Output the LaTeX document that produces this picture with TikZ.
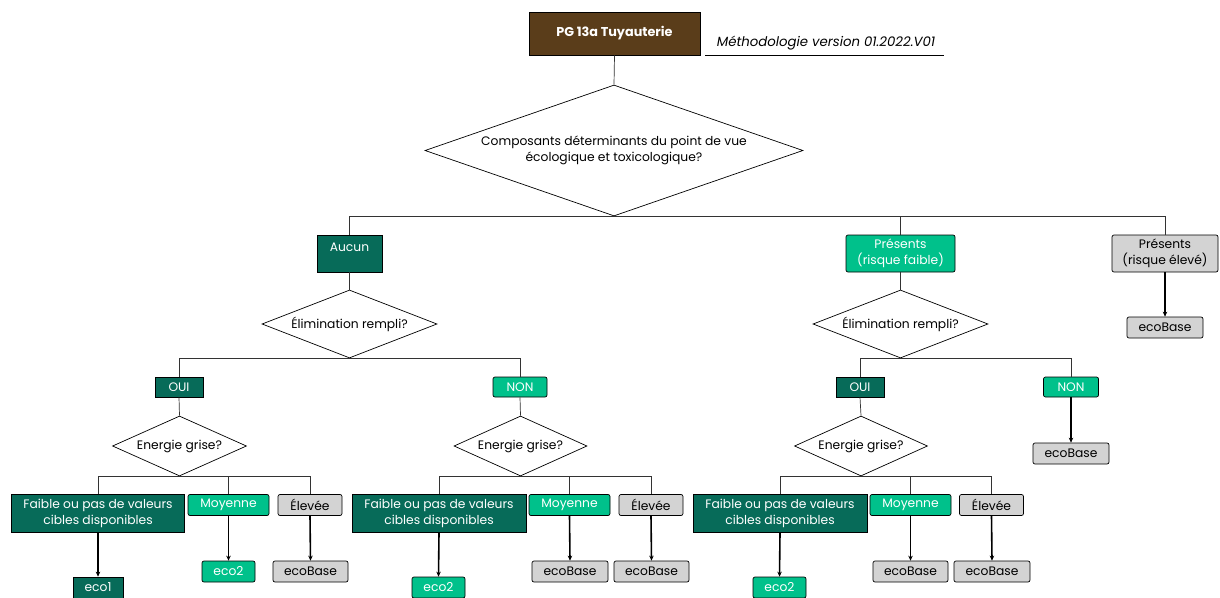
\documentclass[tikz,border=0pt]{standalone}
\usepackage{fontspec}
\setmainfont{Poppins}
\usetikzlibrary{shapes.geometric,arrows.meta}
\definecolor{brownbox}{HTML}{5A3D1A}
\definecolor{dkgreen}{HTML}{076B59}
\definecolor{ltgreen}{HTML}{00C18B}
\definecolor{greybox}{HTML}{D3D3D3}
\definecolor{connc}{HTML}{333333}
\begin{document}
\begin{tikzpicture}[x=1pt,y=-1pt,
  txt/.style={font=\fontsize{12.3}{16}\selectfont},
  base/.style={txt, draw=black, line width=0.7pt, inner sep=0pt, align=center},
  dark/.style={base, fill=dkgreen, text=white},
  light/.style={base, fill=ltgreen, text=white, rounded corners=2pt},
  grey/.style={base, fill=greybox, text=black, rounded corners=2pt},
  dec/.style={txt, diamond, draw=black, line width=0.7pt, inner sep=0pt, align=center, fill=white},
  conn/.style={draw=connc, line width=0.7pt},
  arr/.style={draw=black, line width=1.6pt, -{Stealth[length=5pt,width=4.5pt]}}
]
\useasboundingbox (0,0) rectangle (1220,597);
\fill[white] (0,0) rectangle (1220,597);

% title
\node[base, fill=brownbox, text=white, font=\fontsize{12.8}{15}\selectfont\bfseries, minimum width=171, minimum height=43] (title) at (614.5,33.5) {PG 13a Tuyauterie};
\node[txt, font=\fontsize{13.3}{15}\selectfont\itshape, anchor=base] (meth) at (826,46) {Méthodologie version 01.2022.V01};
\coordinate (ml) at (705,55);
\coordinate (mr) at (944,55);
\draw[line width=0.7pt] (ml) -- (mr);

% main decision
\node[dec, shape aspect=2.9, minimum width=378, minimum height=131] (d1) at (614,150.5) {Composants déterminants du point de vue\\écologique et toxicologique?};
\draw[conn] (title.south) -- (d1.north);

% level 1
\node[dark, minimum width=65, minimum height=37] (aucun) at (349.5,253.5) {\raisebox{6pt}[\height][\depth]{Aucun}};
\node[light, minimum width=109, minimum height=37] (pf) at (900.5,253.5) {Présents\\(risque faible)};
\node[grey, minimum width=106, minimum height=37] (pe) at (1165,253.5) {Présents\\(risque élevé)};
\draw[conn] (d1.south) -| (aucun.north);
\draw[conn] (d1.south) -| (pf.north);
\draw[conn] (d1.south) -| (pe.north);

\node[grey, minimum width=76, minimum height=21] (peb) at (1165,327.5) {ecoBase};
\draw[arr] (pe.south) -- (peb.north);

% elimination decisions
\node[dec, shape aspect=2.6, minimum width=175, minimum height=68] (dA) at (349.5,324) {Élimination rempli?};
\node[dec, shape aspect=2.6, minimum width=175, minimum height=68] (dB) at (900.5,324) {Élimination rempli?};
\draw[conn] (aucun.south) -- (dA.north);
\draw[conn] (pf.south) -- (dB.north);

\node[dark, minimum width=48, minimum height=20] (ouiA) at (179,387) {OUI};
\node[light, minimum width=54, minimum height=20] (nonA) at (520,387) {NON};
\node[dark, minimum width=48, minimum height=20] (ouiB) at (860,387) {OUI};
\node[light, minimum width=55, minimum height=20] (nonB) at (1071,387) {NON};
\draw[conn] (dA.south) -| (ouiA.north);
\draw[conn] (dA.south) -| (nonA.north);
\draw[conn] (dB.south) -| (ouiB.north);
\draw[conn] (dB.south) -| (nonB.north);

\node[grey, minimum width=76, minimum height=21] (nonBb) at (1071,453.5) {ecoBase};
\draw[arr] (nonB.south) -- (nonBb.north);

% energy decisions
\node[dec, shape aspect=2.2, minimum width=134, minimum height=60] (eA) at (179.5,446) {Energie grise?};
\node[dec, shape aspect=2.2, minimum width=133, minimum height=60] (eB) at (520.5,446) {Energie grise?};
\node[dec, shape aspect=2.2, minimum width=133, minimum height=60] (eC) at (861,446) {Energie grise?};
\draw[conn] (ouiA.south) -- (eA.north);
\draw[conn] (nonA.south) -- (eB.north);
\draw[conn] (ouiB.south) -- (eC.north);

% group A
\node[dark, minimum width=173, minimum height=38] (fA) at (98,513) {Faible ou pas de valeurs\\cibles disponibles};
\node[light, minimum width=81, minimum height=21] (mA) at (228.5,505) {Moyenne};
\node[grey, minimum width=64, minimum height=21] (hA) at (310,505) {Élevée};
\draw[conn] (eA.south) -| (fA.north);
\draw[conn] (eA.south) -| (mA.north);
\draw[conn] (eA.south) -| (hA.north);
\node[dark, minimum width=50, minimum height=21] (rfA) at (98,587.5) {eco1};
\node[light, minimum width=53, minimum height=21] (rmA) at (228.5,571.5) {eco2};
\node[grey, minimum width=75, minimum height=21] (rhA) at (310.5,571.5) {ecoBase};
\draw[arr] (fA.south) -- (rfA.north);
\draw[arr] (mA.south) -- (rmA.north);
\draw[arr] (hA.south) -- (rhA.north);

% group B
\node[dark, minimum width=174, minimum height=38] (fB) at (439,513) {Faible ou pas de valeurs\\cibles disponibles};
\node[light, minimum width=81, minimum height=21] (mB) at (569.5,505) {Moyenne};
\node[grey, minimum width=64, minimum height=21] (hB) at (651,505) {Élevée};
\draw[conn] (eB.south) -| (fB.north);
\draw[conn] (eB.south) -| (mB.north);
\draw[conn] (eB.south) -| (hB.north);
\node[light, minimum width=53, minimum height=21] (rfB) at (438.5,587.5) {eco2};
\node[grey, minimum width=76, minimum height=21] (rmB) at (570,571.5) {ecoBase};
\node[grey, minimum width=75, minimum height=21] (rhB) at (651.5,571.5) {ecoBase};
\draw[arr] (fB.south) -- (rfB.north);
\draw[arr] (mB.south) -- (rmB.north);
\draw[arr] (hB.south) -- (rhB.north);

% group C
\node[dark, minimum width=174, minimum height=38] (fC) at (780,513) {Faible ou pas de valeurs\\cibles disponibles};
\node[light, minimum width=81, minimum height=21] (mC) at (910.5,505) {Moyenne};
\node[grey, minimum width=64, minimum height=21] (hC) at (991.5,505) {Élevée};
\draw[conn] (eC.south) -| (fC.north);
\draw[conn] (eC.south) -| (mC.north);
\draw[conn] (eC.south) -| (hC.north);
\node[light, minimum width=53, minimum height=21] (rfC) at (779.5,587.5) {eco2};
\node[grey, minimum width=75, minimum height=21] (rmC) at (910.5,571.5) {ecoBase};
\node[grey, minimum width=76, minimum height=21] (rhC) at (992,571.5) {ecoBase};
\draw[arr] (fC.south) -- (rfC.north);
\draw[arr] (mC.south) -- (rmC.north);
\draw[arr] (hC.south) -- (rhC.north);
\end{tikzpicture}
\end{document}
